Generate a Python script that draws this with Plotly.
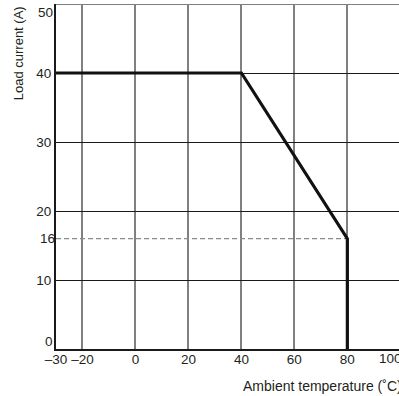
import plotly.graph_objects as go

# Derating curve data
temps = [-30, 40, 80, 80]
current = [40, 40, 16, 0]

# Dashed reference level
ref_x = [-30, 80]
ref_y = [16, 16]

x_tickvals = [-30, -20, 0, 20, 40, 60, 80]
x_ticktext = ["\u201330", "\u201320", "0", "20", "40", "60", "80"]
x_extra_label = 100
y_tickvals = [10, 20, 30, 40]
y_bottom_label = 0
y_top_label = 50
y_ref_label = [16]
x_range = [-30, 99.5]
y_range = [0, 50]

FONT = "Liberation Sans, Arial, Helvetica, sans-serif"
TXT = "#231f20"
FS = 13.5

fig = go.Figure()
fig.add_trace(go.Scatter(x=ref_x, y=ref_y, mode="lines",
                         line=dict(color="#8a8a8a", width=1.3, dash="5px,3px"),
                         hoverinfo="skip", showlegend=False))
fig.add_trace(go.Scatter(x=temps, y=current, mode="lines",
                         line=dict(color="#111111", width=3.2),
                         showlegend=False, cliponaxis=False))

fig.update_layout(
    width=399, height=396,
    margin=dict(l=56, r=0, t=4, b=47, autoexpand=False),
    paper_bgcolor="white", plot_bgcolor="white",
    font=dict(family=FONT, size=FS, color=TXT),
    xaxis=dict(range=x_range, tickvals=x_tickvals, ticktext=x_ticktext,
               showgrid=True, gridcolor="#808080", gridwidth=1.8,
               showline=True, linecolor="#1a1a1a", linewidth=2,
               ticks="", zeroline=False, automargin=False,
               ticklabeloverflow="allow", ticklabelstandoff=-3),
    yaxis=dict(range=y_range, tickvals=y_tickvals,
               showgrid=True, gridcolor="#1a1a1a", gridwidth=1,
               showline=True, linecolor="#1a1a1a", linewidth=2,
               ticks="", ticklabelstandoff=0, zeroline=False, automargin=False,
               ticklabeloverflow="allow"),
    yaxis2=dict(range=y_range, tickvals=y_ref_label, overlaying="y", side="left",
                showgrid=False, showline=False, ticks="", zeroline=False,
                ticklabelstandoff=0, automargin=False),
)
# top border in gray
fig.add_shape(type="line", xref="paper", yref="y", x0=0, x1=1,
              y0=y_range[1], y1=y_range[1], line=dict(color="#808080", width=2))
# invisible trace to activate yaxis2
fig.add_trace(go.Scatter(x=[x_range[0]], y=[y_range[0]], yaxis="y2", mode="markers",
                         marker=dict(opacity=0), hoverinfo="skip", showlegend=False))

fig.add_annotation(x=0, xref="paper", y=y_top_label, yref="y", xanchor="right",
                   yanchor="top", text=str(y_top_label), showarrow=False,
                   xshift=-1, yshift=1, font=dict(size=FS, color=TXT))
fig.add_annotation(x=0, xref="paper", y=y_bottom_label, yref="y", xanchor="right",
                   yanchor="bottom", text=str(y_bottom_label), showarrow=False,
                   xshift=-1, yshift=-2, font=dict(size=FS, color=TXT))
fig.add_annotation(x=1, xref="paper", y=0, yref="paper", xanchor="left", yanchor="top",
                   text=str(x_extra_label), showarrow=False, xshift=-22, yshift=0,
                   font=dict(size=FS, color=TXT))
fig.add_annotation(x=1, xref="paper", y=-0.107, yref="paper", xanchor="right",
                   yanchor="middle", text="Ambient temperature (\u02daC)", showarrow=False,
                   xshift=5, font=dict(size=14, color=TXT))
fig.add_annotation(x=-0.11, xref="paper", y=1, yref="paper", xanchor="center",
                   yanchor="top", textangle=-90, text="Load current (A)", showarrow=False,
                   font=dict(size=13, color=TXT))

fig.write_html("out.html", config={"displayModeBar": False},
               post_script="document.body.style.margin='0';document.body.style.padding='0';")
